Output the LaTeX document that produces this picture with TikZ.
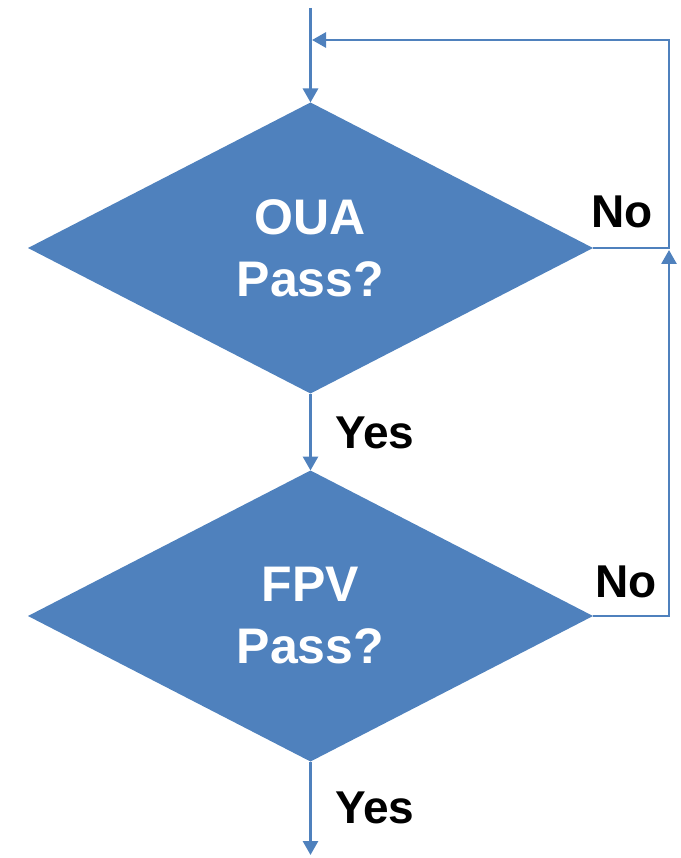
\documentclass[tikz,border=0pt]{standalone}
\usepackage{fontspec}
\setmainfont{Liberation Sans}
\usetikzlibrary{shapes.geometric,arrows.meta}
\definecolor{flowblue}{HTML}{4F81BD}
\tikzset{
  decision/.style={diamond, fill=flowblue, draw=none, inner sep=0pt, outer sep=0pt,
    minimum width=565pt, minimum height=291pt, align=center, text=white,
    font=\bfseries\fontsize{50}{62}\selectfont},
  flow/.style={draw=flowblue, line width=2.8pt, -{Triangle[length=14pt,width=15pt]}},
  answer/.style={font=\bfseries\fontsize{46}{55}\selectfont, text=black, inner sep=0pt, anchor=base west}
}
\begin{document}
\begin{tikzpicture}[x=1pt, y=-1pt]
  \useasboundingbox (0,0) rectangle (680,858);

  % decisions
  \node[decision] (oua) at (310.5,248) {OUA\\Pass?};
  \node[decision] (fpv) at (310.5,616) {FPV\\Pass?};

  % helper points of the return loop
  \coordinate (entry) at (310.5,8);
  \coordinate (merge) at (312,40);
  \coordinate (ouaright) at (669,248);
  \coordinate (fpvright) at (669,616);
  \coordinate (jointip) at (669,250);
  \coordinate (exit) at (310.5,855);

  % connectors
  \draw[flow] (entry) -- (oua.north);
  \draw[flow] (oua.south) -- (fpv.north);
  \draw[flow] (fpv.south) -- (exit);
  \draw[flow] (oua.east) -- (ouaright) |- (merge);
  \draw[flow] (fpv.east) -- (fpvright) -- (jointip);

  % answer labels
  \node[answer] (yes1) at (335,448) {Yes};
  \node[answer] (yes2) at (335,823) {Yes};
  \node[answer] (no1) at (591,228) {No};
  \node[answer] (no2) at (595,597) {No};
\end{tikzpicture}
\end{document}
